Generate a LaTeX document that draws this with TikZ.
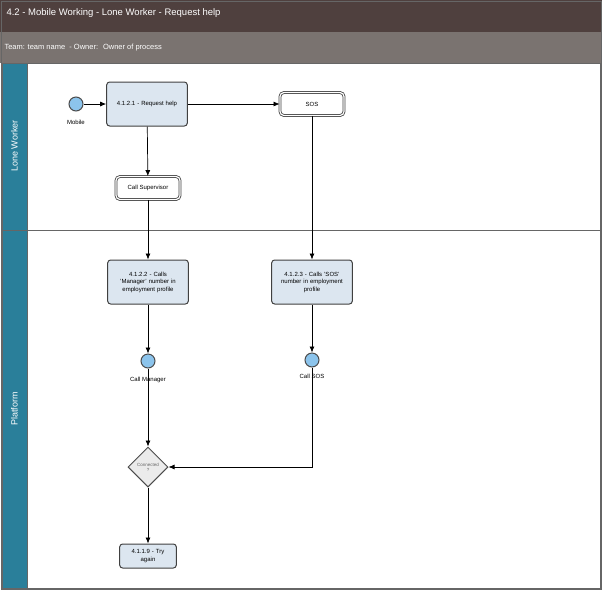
\documentclass[tikz,border=0pt]{standalone}
\usepackage{fontspec}
\setmainfont{Liberation Sans}
\usetikzlibrary{shapes.geometric,arrows.meta,positioning}
\definecolor{titlebar}{HTML}{4F403E}
\definecolor{teambar}{HTML}{7A7370}
\definecolor{laneblue}{HTML}{2A7F9A}
\definecolor{taskfill}{HTML}{DCE6F0}
\definecolor{eventfill}{HTML}{8CC4EC}
\begin{document}
\begin{tikzpicture}[x=1pt,y=-1pt,
    task/.style={draw=black!75, line width=1pt, fill=taskfill, rounded corners=3pt, minimum width=79pt, minimum height=44pt, align=center, font=\fontsize{6}{7.5}\selectfont, text width=74pt},
    sub/.style={draw=black!75, line width=0.8pt, fill=white, rounded corners=4pt, minimum width=64pt, minimum height=23pt, double, double distance=1.2pt, font=\fontsize{6}{7.5}\selectfont},
    event/.style={circle, draw=black!70, line width=1pt, fill=eventfill, minimum size=14pt, inner sep=0pt},
    lbl/.style={font=\fontsize{6}{7.5}\selectfont},
    flow/.style={-{Latex[length=6pt,width=5pt]}, line width=0.7pt}]
    % Cadre et bandeaux
    \useasboundingbox (0,0) rectangle (602,590);
    \fill[titlebar] (0,0) rectangle (602,32);
    \fill[teambar] (0,32) rectangle (602,63);
    \node[anchor=west, text=white, font=\fontsize{9.5}{11}\selectfont] at (3,13) {4.2 - Mobile Working - Lone Worker - Request help};
    \node[anchor=west, text=white, font=\fontsize{7.5}{9}\selectfont] at (1,48) {Team: team name \ - Owner: \ Owner of process};
    \draw[black!60] (1,1) rectangle (601,589);

    % Couloirs
    \fill[laneblue] (2,63) rectangle (27,588);
    \draw[black!60] (2,63) rectangle (600,588);
    \draw[black!60] (2,230) -- (600,230);
    \draw[black!60] (27,63) -- (27,588);
    \node[rotate=90, text=white, font=\fontsize{9}{10}\selectfont] at (14.5,146) {Lone Worker};
    \node[rotate=90, text=white, font=\fontsize{9}{10}\selectfont] at (14.5,409) {Platform};

    % Noeuds
    \node[event] (mobile) at (76,104) {};
    \node[lbl, below=5pt of mobile] {Mobile};
    \node[task] (request) at (147,104) {4.1.2.1 - Request help};
    \node[sub] (sos) at (312,104) {SOS};
    \node[sub] (super) at (148,188) {Call Supervisor};
    \node[task] (manager) at (148,282) {4.1.2.2 - Calls\\'Manager' number in\\employment profile};
    \node[task] (sosnum) at (312,282) {4.1.2.3 - Calls 'SOS'\\number in employment\\profile};
    \node[event] (callman) at (148,361) {};
    \node[lbl, below=5pt of callman] {Call Manager};
    \node[event] (callsos) at (312,360) {};
    \node[lbl, below=3pt of callsos] {Call SOS};
    \node[diamond, draw=black!70, line width=1pt, fill=black!8, minimum width=40pt, minimum height=40pt, inner sep=0pt, align=center, font=\fontsize{4.5}{5}\selectfont, text=black!60] (conn) at (148,467) {Connected\\?};
    \node[task, minimum width=55pt, minimum height=24pt, text width=50pt] (retry) at (148,556) {4.1.1.9 - Try\\again};

    % Flux
    \draw[flow] (mobile) -- (request);
    \draw[flow] (request) -- (sos);
    \draw[flow] (request) -- (super);
    \draw[flow] (super) -- (manager);
    \draw[flow] (sos) -- (sosnum);
    \draw[flow] (manager) -- (callman);
    \draw[flow] (sosnum) -- (callsos);
    \draw[flow] (callman) -- (conn);
    \draw[flow] (callsos) |- (conn);
    \draw[flow] (conn) -- (retry);
\end{tikzpicture}
\end{document}
